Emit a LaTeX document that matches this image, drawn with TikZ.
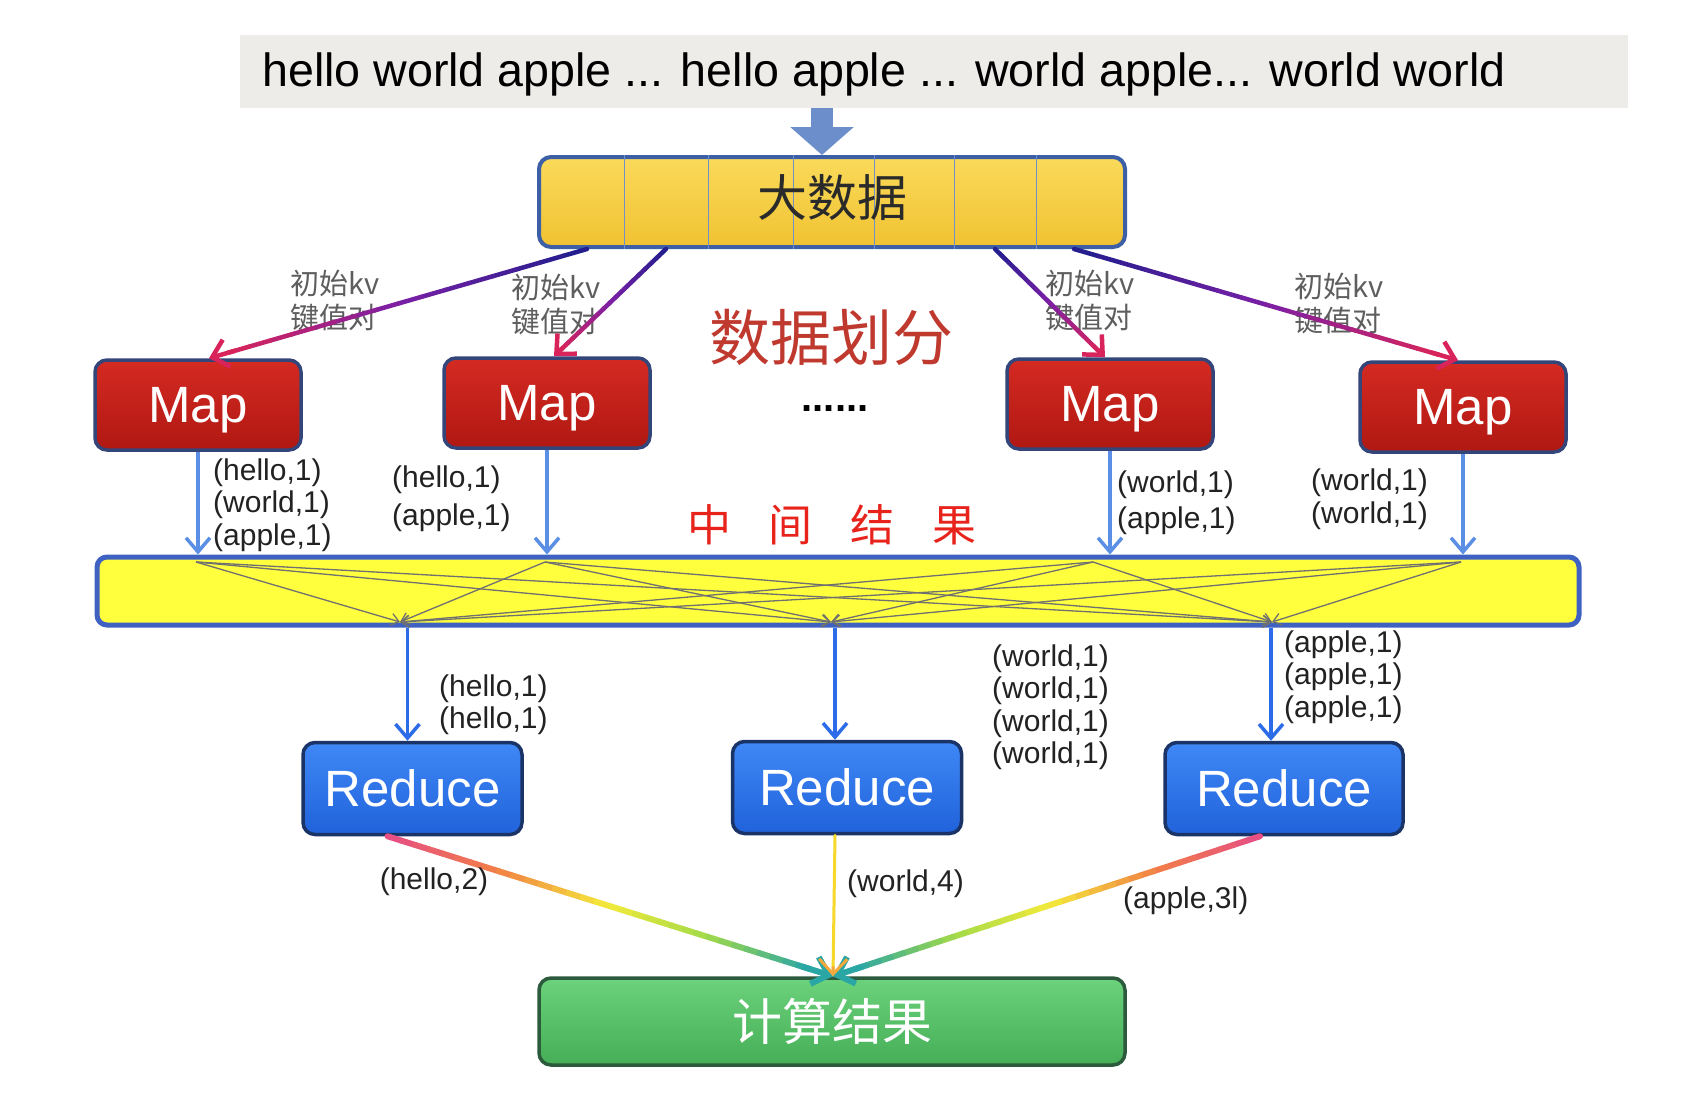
\documentclass[tikz,border=0pt]{standalone}
\usepackage{fontspec}
\setmainfont{Liberation Sans}
\newfontfamily\cjk{Noto Sans CJK SC}
\usetikzlibrary{arrows.meta,calc}
\definecolor{srcgray}{HTML}{EEECE8}
\definecolor{inblue}{HTML}{6C8FCB}
\definecolor{bigtop}{HTML}{FADA5A}
\definecolor{bigbot}{HTML}{F0C232}
\definecolor{bigedge}{HTML}{3C5FA6}
\definecolor{divblue}{HTML}{6F90C8}
\definecolor{maptop}{HTML}{D42A22}
\definecolor{mapbot}{HTML}{B01812}
\definecolor{mapedge}{HTML}{34457A}
\definecolor{navy}{HTML}{1E1E8C}
\definecolor{purp}{HTML}{7A1FA6}
\definecolor{crimson}{HTML}{D8245A}
\definecolor{lblue}{HTML}{5B8FE6}
\definecolor{barfill}{HTML}{FFFF3E}
\definecolor{baredge}{HTML}{3F62C2}
\definecolor{crossgray}{HTML}{707070}
\definecolor{rblue}{HTML}{2D6CE8}
\definecolor{redtop}{HTML}{3F88F6}
\definecolor{redbot}{HTML}{2062DA}
\definecolor{rededge}{HTML}{1B3468}
\definecolor{restop}{HTML}{6CD27C}
\definecolor{resbot}{HTML}{45AE56}
\definecolor{resedge}{HTML}{2C5A3C}
\definecolor{splitred}{HTML}{C0392F}
\definecolor{midred}{HTML}{E8231C}
\definecolor{labgray}{HTML}{5E5E5E}
\definecolor{txtdark}{HTML}{222222}
\definecolor{bigtext}{HTML}{2A2A2A}
\definecolor{rbpink}{HTML}{E54C86}
\definecolor{rborange}{HTML}{F27E46}
\definecolor{rbyellow}{HTML}{F3EA3A}
\definecolor{rbgreen}{HTML}{A2DA48}
\definecolor{rbteal}{HTML}{2AA6A4}
\definecolor{midyel}{HTML}{F5D82A}
\definecolor{midtip}{HTML}{F2A83A}

% gradient segment: from, to, t0, t1, c0, c1, width
\newcommand\gseg[7]{%
  \foreach \k in {0,...,7}{%
    \pgfmathsetmacro\ta{#3+(#4-#3)*\k/8}%
    \pgfmathsetmacro\tb{#3+(#4-#3)*(\k+1)/8}%
    \pgfmathtruncatemacro\pc{100-(\k+0.5)*12.5}%
    \draw[line width=#7, line cap=round, draw=#5!\pc!#6] ($(#1)!\ta!(#2)$) -- ($(#1)!\tb!(#2)$);
  }}
\newcommand\gtip[4]{%
  \draw[line width=#4, draw=#3, -{Straight Barb[length=15pt,width=28pt]}] ($(#1)!0.93!(#2)$) -- (#2);}
\newcommand\kvarrow[2]{%
  \gseg{#1}{#2}{0}{0.5}{navy}{purp}{4.5}%
  \gseg{#1}{#2}{0.5}{0.95}{purp}{crimson}{4.5}%
  \gtip{#1}{#2}{crimson}{4.5}}
\newcommand\rbarrow[2]{%
  \gseg{#1}{#2}{0}{0.25}{rbpink}{rborange}{6}%
  \gseg{#1}{#2}{0.25}{0.5}{rborange}{rbyellow}{6}%
  \gseg{#1}{#2}{0.5}{0.72}{rbyellow}{rbgreen}{6}%
  \gseg{#1}{#2}{0.72}{0.95}{rbgreen}{rbteal}{6}%
  \gtip{#1}{#2}{rbteal}{6}}

\begin{document}
\begin{tikzpicture}[x=1pt,y=-1pt,
  srcbox/.style={fill=srcgray, inner sep=0pt, minimum width=1388pt, minimum height=73pt},
  bigbox/.style={draw=bigedge, line width=4pt, top color=bigtop, bottom color=bigbot, rounded corners=12pt, inner sep=0pt, minimum width=586pt, minimum height=90pt},
  mapbox/.style={draw=mapedge, line width=3.5pt, top color=maptop, bottom color=mapbot, rounded corners=12pt, inner sep=0pt, minimum width=206pt, minimum height=90pt, text=white, text depth=0pt, font=\fontsize{51}{60}\selectfont},
  barbox/.style={draw=baredge, line width=5pt, fill=barfill, rounded corners=10pt, inner sep=0pt, minimum width=1482pt, minimum height=68pt},
  redbox/.style={draw=rededge, line width=3.5pt, top color=redtop, bottom color=redbot, rounded corners=12pt, inner sep=0pt, minimum height=92pt, text=white, text depth=0pt, font=\fontsize{51}{60}\selectfont},
  resbox/.style={draw=resedge, line width=3.5pt, top color=restop, bottom color=resbot, rounded corners=12pt, inner sep=0pt, minimum width=586pt, minimum height=87pt, text=white, font=\cjk\fontsize{50}{60}\selectfont},
  cjklab/.style={anchor=west, inner sep=0pt, text=labgray, font=\cjk\fontsize{29}{34}\selectfont},
  kvlab/.style={anchor=west, inner sep=0pt, text=txtdark, font=\fontsize{30}{34}\selectfont},
  maparrow/.style={draw=lblue, line width=3.5pt, -{Straight Barb[length=14pt,width=24pt]}},
  redarrow/.style={draw=rblue, line width=3.5pt, -{Straight Barb[length=14pt,width=24pt]}},
  crossline/.style={draw=crossgray, line width=1.3pt, -{Straight Barb[length=8pt,width=12pt]}}
]
\useasboundingbox[fill=white] (0,0) rectangle (1696,1112);

% source text
\node[srcbox] (src) at (934,71.5) {};
\node[anchor=west, inner sep=0pt, font=\fontsize{46.6}{56}\selectfont] (srctxt) at (262,74) {hello world apple ... hello apple ... world apple... world world};

% big data box
\node[bigbox] (big) at (832,202) {};
\foreach \dx in {-208,-124,-39,42,122,204}
  \draw[divblue, line width=1pt] ([xshift=\dx pt]big.north) -- ([xshift=\dx pt]big.south);
\node[inner sep=0pt, text=bigtext, font=\cjk\fontsize{50}{60}\selectfont] (bigtxt) at ([yshift=4pt]big.center) {大数据};

\coordinate (bigin) at ([xshift=-10pt]big.north);
\draw[inblue, line width=22pt, -{Triangle[length=28pt,width=62pt]}] (src.south -| bigin) -- (bigin);

% kv labels
\node[cjklab] (k1a) at (290,283) {初始kv};
\node[cjklab] (k1b) at (290,317) {键值对};
\node[cjklab] (k2a) at (511,287) {初始kv};
\node[cjklab] (k2b) at (511,321) {键值对};
\node[cjklab] (k3a) at (1045,283) {初始kv};
\node[cjklab] (k3b) at (1045,318) {键值对};
\node[cjklab] (k4a) at (1294,286) {初始kv};
\node[cjklab] (k4b) at (1294,320) {键值对};

% map boxes
\node[mapbox] (m1) at (198,405) {Map};
\node[mapbox] (m2) at (547,403) {Map};
\node[mapbox] (m3) at (1110,404) {Map};
\node[mapbox] (m4) at (1463,407) {Map};

\coordinate (s1) at ([xshift=-245pt]big.south);
\coordinate (s2) at ([xshift=-166pt]big.south);
\coordinate (s3) at ([xshift=163pt]big.south);
\coordinate (s4) at ([xshift=242pt]big.south);
\coordinate (e1) at ([xshift=11pt]m1.north);
\coordinate (e2) at ([xshift=7pt]m2.north);
\coordinate (e3) at ([xshift=-5pt]m3.north);
\coordinate (e4) at ([xshift=-5pt]m4.north);
\kvarrow{s1}{e1}
\kvarrow{s2}{e2}
\kvarrow{s3}{e3}
\kvarrow{s4}{e4}

\node[text=splitred, inner sep=0pt, font=\cjk\fontsize{61}{70}\selectfont] (split) at (831,337) {数据划分};
\node[inner sep=0pt, font=\bfseries\fontsize{40}{48}\selectfont] (dots) at (835,409) {......};

% intermediate bar
\node[barbox] (bar) at (838,591) {};
\coordinate (t1) at (196,562);
\coordinate (t2) at (545,562);
\coordinate (t3) at (1093,562);
\coordinate (t4) at (1461,562);
\coordinate (b1) at (400,622);
\coordinate (b2) at (831,622);
\coordinate (b3) at (1272,622);
\foreach \t in {1,...,4}
  \foreach \b in {1,2,3}
    \draw[crossline] (t\t) -- (b\b);

\draw[maparrow] (m1.south) -- (m1.south |- bar.north);
\draw[maparrow] (m2.south) -- (m2.south |- bar.north);
\draw[maparrow] (m3.south) -- (m3.south |- bar.north);
\draw[maparrow] (m4.south) -- (m4.south |- bar.north);

\node[text=midred, inner sep=0pt, font=\cjk\fontsize{44}{52}\selectfont] (mid) at (832,525) {中\hspace{38pt}间\hspace{38pt}结\hspace{38pt}果};

% map output labels
\node[kvlab] (l11) at (213,473) {(hello,1)};
\node[kvlab] (l12) at (213,505) {(world,1)};
\node[kvlab] (l13) at (213,538) {(apple,1)};
\node[kvlab] (l21) at (392,480) {(hello,1)};
\node[kvlab] (l22) at (392,518) {(apple,1)};
\node[kvlab] (l31) at (1117,485) {(world,1)};
\node[kvlab] (l32) at (1117,521) {(apple,1)};
\node[kvlab] (l41) at (1311,483) {(world,1)};
\node[kvlab] (l42) at (1311,516) {(world,1)};

% reduce boxes
\node[redbox, minimum width=219pt] (r1) at (412.5,788.5) {Reduce};
\node[redbox, minimum width=229pt] (r2) at (847,787.5) {Reduce};
\node[redbox, minimum width=238pt] (r3) at (1284,788.5) {Reduce};

\coordinate (rin1) at ([xshift=-5pt]r1.north);
\coordinate (rin2) at ([xshift=-12pt]r2.north);
\coordinate (rin3) at ([xshift=-13pt]r3.north);
\draw[redarrow] (bar.south -| rin1) -- (rin1);
\draw[redarrow] (bar.south -| rin2) -- (rin2);
\draw[redarrow] (bar.south -| rin3) -- (rin3);

\node[kvlab] (q11) at (439,689) {(hello,1)};
\node[kvlab] (q12) at (439,721) {(hello,1)};
\node[kvlab] (q21) at (992,659) {(world,1)};
\node[kvlab] (q22) at (992,691) {(world,1)};
\node[kvlab] (q23) at (992,724) {(world,1)};
\node[kvlab] (q24) at (992,756) {(world,1)};
\node[kvlab] (q31) at (1284,645) {(apple,1)};
\node[kvlab] (q32) at (1284,677) {(apple,1)};
\node[kvlab] (q33) at (1284,710) {(apple,1)};

% result
\node[resbox] (res) at (832,1021.5) {计算结果};
\coordinate (o1) at ([xshift=-25pt]r1.south);
\coordinate (o2) at ([xshift=-12pt]r2.south);
\coordinate (o3) at ([xshift=-24pt]r3.south);
\coordinate (rin) at ([xshift=1pt]res.north);
\rbarrow{o1}{rin}
\rbarrow{o3}{rin}
\gseg{o2}{rin}{0}{0.95}{midyel}{midyel}{3}
\gtip{o2}{rin}{midtip}{3}

\node[inner sep=0pt, text=txtdark, font=\fontsize{30}{34}\selectfont] (w1) at (434,882) {(hello,2)};
\node[kvlab] (w2) at (847,884) {(world,4)};
\node[kvlab] (w3) at (1123,901) {(apple,3l)};
\end{tikzpicture}
\end{document}
